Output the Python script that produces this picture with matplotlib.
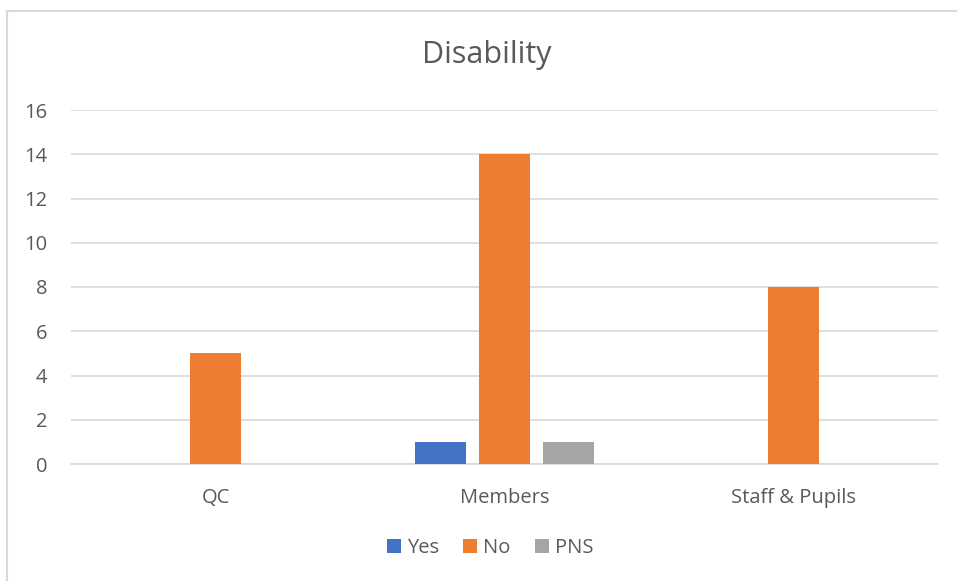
import numpy as np
import matplotlib.pyplot as plt
from matplotlib.patches import Rectangle

categories = ["QC", "Members", "Staff & Pupils"]
yes_vals = [0, 1, 0]
no_vals = [5, 14, 8]
pns_vals = [0, 1, 0]
series_names = ["Yes", "No", "PNS"]
series_colors = ["#4472C4", "#ED7D31", "#A5A5A5"]

plt.rcParams['font.family'] = ['Open Sans', 'DejaVu Sans']
text_color = "#595959"

fig = plt.figure(figsize=(9.57, 5.81), dpi=100)
ax = fig.add_axes([71 / 957, 1 - 464 / 581, (938 - 71) / 957, (464 - 110) / 581])

x = np.arange(len(categories))
width = 0.176
step = 0.221
for i, (vals, name, col) in enumerate(zip([yes_vals, no_vals, pns_vals], series_names, series_colors)):
    ax.bar(x + (i - 1) * step, vals, width=width, color=col, label=name, zorder=3)

ax.set_xlim(-0.5, len(categories) - 0.5)
ax.set_ylim(0, 16)
ax.set_yticks(range(0, 17, 2))
ax.set_xticks(x)
ax.set_xticklabels(categories)
ax.grid(axis='y', color='#D9D9D9', linewidth=1.2, zorder=0)
for s in ['top', 'right', 'left']:
    ax.spines[s].set_visible(False)
ax.spines['bottom'].set_color('#D9D9D9')
ax.spines['bottom'].set_linewidth(1.2)
ax.tick_params(axis='both', length=0, colors=text_color, labelsize=14.5)
ax.tick_params(axis='y', pad=17)
ax.tick_params(axis='x', pad=17)

fig.text(0.509, 1 - 55 / 581, "Disability", ha='center', va='center', fontsize=22, color=text_color)

ax.legend(loc='center', bbox_to_anchor=(0.512, 1 - 548 / 581), bbox_transform=fig.transFigure,
          ncol=3, frameon=False, fontsize=14.5, handlelength=0.7, handleheight=0.7,
          handletextpad=0.3, columnspacing=1.2, labelcolor=text_color)

fig.patches.append(Rectangle((7 / 957, -0.05), 1.2, 1 - 11 / 581 + 0.05, transform=fig.transFigure,
                             fill=False, edgecolor='#D9D9D9', linewidth=1.5))

fig.savefig("out.png", dpi=100, facecolor='white')
